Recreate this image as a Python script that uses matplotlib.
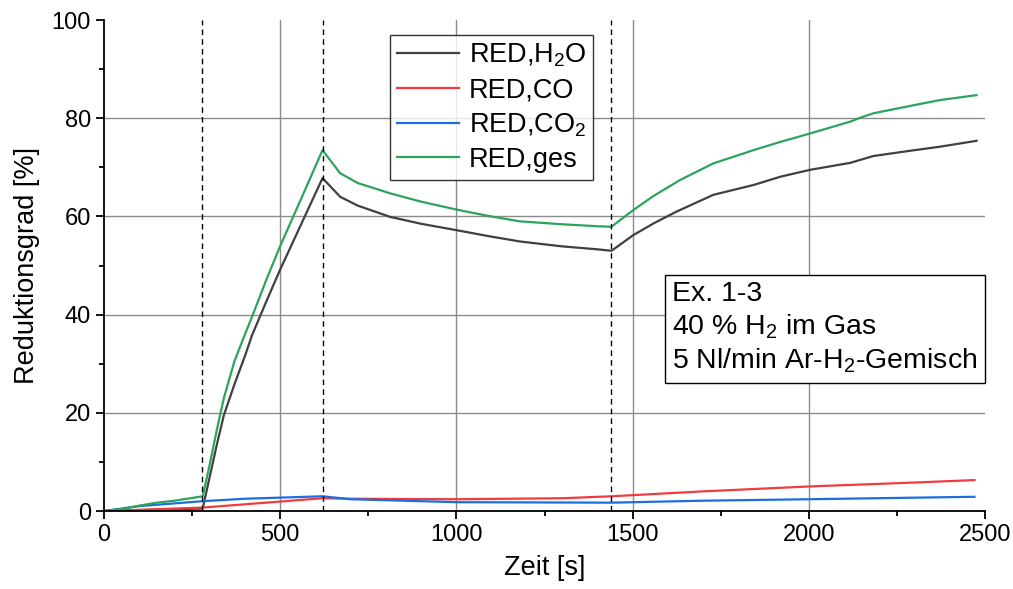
import matplotlib.pyplot as plt
import numpy as np
import matplotlib as mpl

mpl.rcParams['font.family'] = ['Liberation Sans', 'DejaVu Sans']
mpl.rcParams['mathtext.fontset'] = 'custom'
mpl.rcParams['mathtext.rm'] = 'Liberation Sans'

# Data
t_h2o = [0, 280, 300, 320, 340, 370, 400, 420, 460, 500, 560, 620, 670, 720, 812, 900,
         1000, 1090, 1180, 1300, 1400, 1440, 1502, 1560, 1625, 1729, 1843, 1920, 2004,
         2117, 2150, 2183, 2280, 2372, 2476]
red_h2o = [0, 0.5, 7, 13.5, 19.5, 25.8, 31.6, 35.8, 42.6, 49.2, 58.5, 67.8, 64, 62.2,
           59.9, 58.5, 57.2, 56, 54.9, 53.9, 53.3, 53, 56.2, 58.6, 61, 64.4, 66.4, 68.1,
           69.5, 70.9, 71.6, 72.3, 73.3, 74.2, 75.4]

t_ges = [0, 50, 100, 150, 200, 280, 300, 320, 340, 370, 400, 424, 460, 500, 560, 620, 670,
         720, 812, 900, 1000, 1090, 1180, 1300, 1400, 1440, 1502, 1560, 1634, 1729, 1843,
         1920, 2004, 2117, 2150, 2183, 2280, 2372, 2476]
red_ges = [0, 0.4, 1.1, 1.7, 2.1, 3.0, 9.5, 16.5, 23, 30.5, 36, 40.3, 47, 54, 63.7, 73.5,
           68.8, 66.8, 64.7, 63, 61.4, 60.1, 59, 58.4, 58, 57.9, 61.3, 64.2, 67.4, 70.8,
           73.5, 75.2, 76.9, 79.3, 80.2, 81, 82.4, 83.7, 84.7]

t_co = [0, 280, 620, 700, 1000, 1300, 1440, 1700, 2000, 2300, 2470]
red_co = [0, 0.7, 2.6, 2.5, 2.4, 2.6, 3.0, 4.0, 5.0, 5.8, 6.3]

t_co2 = [0, 100, 280, 400, 620, 700, 1000, 1440, 1700, 2000, 2470]
red_co2 = [0, 1.0, 2.0, 2.5, 3.0, 2.4, 1.8, 1.7, 2.1, 2.4, 2.9]

switch_times = [278, 620, 1440]

fig = plt.figure(figsize=(10.13, 5.89), dpi=100)
ax = fig.add_axes([0.1027, 0.1324, 0.8697, 0.8336])

for gx in [500, 1000, 1500, 2000]:
    ax.axvline(gx, color='#8c8c8c', lw=1, zorder=0)
for gy in [20, 40, 60, 80]:
    ax.axhline(gy, color='#8c8c8c', lw=1, zorder=0)

ax.plot(t_h2o, red_h2o, color='#404040', lw=1.6, label=r'RED,H$_2$O')
ax.plot(t_co, red_co, color='#f03c40', lw=1.6, label='RED,CO')
ax.plot(t_co2, red_co2, color='#1c6ee0', lw=1.6, label=r'RED,CO$_2$')
ax.plot(t_ges, red_ges, color='#2ca45e', lw=1.6, label='RED,ges')

for ts in switch_times:
    ax.axvline(ts, color='black', lw=1, dashes=(4, 3), zorder=3)

ax.set_xlim(0, 2500)
ax.set_ylim(0, 100)
ax.set_xticks([0, 500, 1000, 1500, 2000, 2500])
ax.set_xticks(np.arange(250, 2500, 500), minor=True)
ax.set_yticks([0, 20, 40, 60, 80, 100])
ax.set_yticks(np.arange(10, 100, 20), minor=True)

for s in ['top', 'right']:
    ax.spines[s].set_visible(False)
for s in ['left', 'bottom']:
    ax.spines[s].set_linewidth(1.3)
ax.tick_params(which='major', direction='out', length=6, width=1.3, labelsize=17)
ax.tick_params(which='minor', direction='out', length=3.5, width=1.3)

ax.set_xlabel('Zeit [s]', fontsize=19.5, labelpad=6)
ax.set_ylabel('Reduktionsgrad [%]', fontsize=19.5, labelpad=8)

leg = ax.legend(loc='upper left', bbox_to_anchor=(0.325, 0.97), borderaxespad=0,
                fontsize=19.5, frameon=True, fancybox=False, handlelength=2.3,
                handletextpad=0.35, labelspacing=0.3, borderpad=0.25)
leg.get_frame().set_edgecolor('black')
leg.get_frame().set_linewidth(1)

ax.text(0.645, 0.468, 'Ex. 1-3\n40 % H$_2$ im Gas\n5 Nl/min Ar-H$_2$-Gemisch',
        transform=ax.transAxes, fontsize=20.5, va='top', ha='left', linespacing=1.24,
        bbox=dict(boxstyle='square,pad=0.25', fc='white', ec='black', lw=1))

fig.savefig('out.png', dpi=100)
